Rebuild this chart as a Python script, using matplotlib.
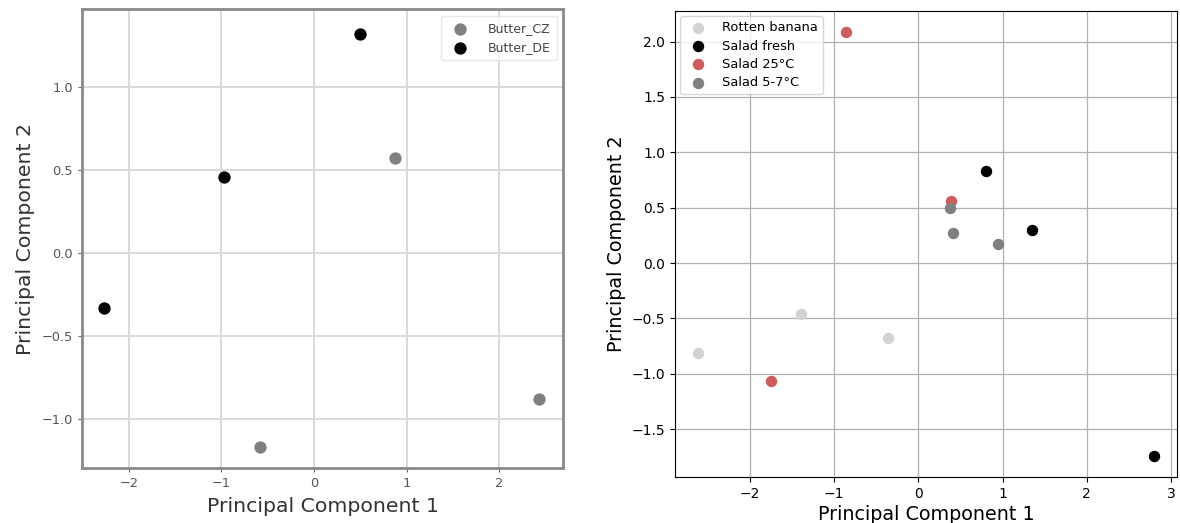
import matplotlib
matplotlib.use("Agg")
import matplotlib.pyplot as plt

# Butter PCA scores
butter_groups = ["Butter_CZ", "Butter_DE"]
butter_cz_pc1 = [-0.58, 0.88, 2.43]
butter_cz_pc2 = [-1.17, 0.57, -0.88]
butter_de_pc1 = [-2.27, -0.97, 0.50]
butter_de_pc2 = [-0.33, 0.46, 1.32]

# Salad / banana PCA scores
salad_groups = ["Rotten banana", "Salad fresh", "Salad 25°C", "Salad 5-7°C"]
banana_pc1 = [-2.62, -1.39, -0.36]
banana_pc2 = [-0.81, -0.46, -0.68]
fresh_pc1 = [0.80, 1.35, 2.80]
fresh_pc2 = [0.83, 0.30, -1.74]
warm_pc1 = [-0.86, -1.75, 0.385]
warm_pc2 = [2.085, -1.065, 0.565]
cool_pc1 = [0.37, 0.41, 0.94]
cool_pc2 = [0.50, 0.275, 0.17]

fig = plt.figure(figsize=(11.8, 5.23), dpi=100)

# ---- left panel: butter ----
ax1 = fig.add_axes([0.0695, 0.1052, 0.4076, 0.8767])
ax1.scatter(butter_cz_pc1, butter_cz_pc2, s=62, color="#808080", label=butter_groups[0], zorder=3)
ax1.scatter(butter_de_pc1, butter_de_pc2, s=62, color="black", label=butter_groups[1], zorder=3)
ax1.set_xlim(-2.505, 2.69)
ax1.set_ylim(-1.295, 1.467)
ax1.grid(True, color="#d9d9d9", linewidth=1.4)
ax1.set_axisbelow(True)
for sp in ax1.spines.values():
    sp.set_color("#8a8a8a")
    sp.set_linewidth(2.0)
ax1.tick_params(labelsize=9.3, colors="#666666", labelcolor="#555555", length=3)
ax1.set_xlabel("Principal Component 1", fontsize=14.7, color="#333333", labelpad=5)
ax1.set_ylabel("Principal Component 2", fontsize=14.7, color="#333333", labelpad=5)
leg1 = ax1.legend(loc="upper right", fontsize=9, frameon=True, labelcolor="#444444",
                  borderpad=0.5, handletextpad=1.2)
leg1.get_frame().set_edgecolor("#e2e2e2")

# ---- right panel: salad ----
ax2 = fig.add_axes([0.572, 0.088, 0.4254, 0.891])
ax2.scatter(banana_pc1, banana_pc2, s=52, color="lightgray", label=salad_groups[0], zorder=3)
ax2.scatter(fresh_pc1, fresh_pc2, s=52, color="black", label=salad_groups[1], zorder=3)
ax2.scatter(warm_pc1, warm_pc2, s=52, color="indianred", label=salad_groups[2], zorder=3)
ax2.scatter(cool_pc1, cool_pc2, s=52, color="gray", label=salad_groups[3], zorder=3)
ax2.grid(True, color="#b0b0b0", linewidth=0.9)
ax2.set_axisbelow(True)
ax2.tick_params(labelsize=10)
ax2.set_xlabel("Principal Component 1", fontsize=13.8, labelpad=3)
ax2.set_ylabel("Principal Component 2", fontsize=13.8)
ax2.legend(loc="upper left", fontsize=9.4, labelspacing=0.4, borderaxespad=0.4)

fig.savefig("out.png", dpi=100)
